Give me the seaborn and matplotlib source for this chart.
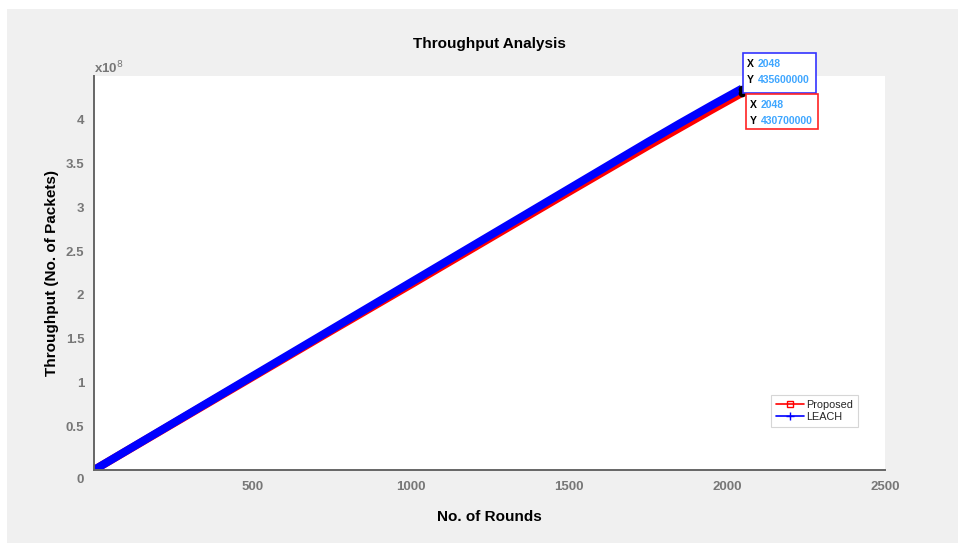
import matplotlib
matplotlib.use("Agg")
import matplotlib.pyplot as plt
import seaborn as sns
import pandas as pd
from matplotlib.patches import Rectangle
from matplotlib.lines import Line2D
from matplotlib.ticker import FuncFormatter

# ---- data ----
rounds = [0, 250, 500, 750, 1000, 1250, 1500, 1750, 1850, 1950, 2048]
leach = [0.0, 0.535e8, 1.07e8, 1.605e8, 2.14e8, 2.675e8, 3.21e8, 3.745e8, 3.955e8, 4.16e8, 4.356e8]
proposed = [0.0, 0.53e8, 1.06e8, 1.59e8, 2.115e8, 2.645e8, 3.175e8, 3.70e8, 3.905e8, 4.11e8, 4.307e8]
series_names = ["Proposed", "LEACH"]
x_ticks = [0, 500, 1000, 1500, 2000, 2500]
y_ticks = [0, 0.5e8, 1e8, 1.5e8, 2e8, 2.5e8, 3e8, 3.5e8, 4e8, 4.5e8]
tip_x = 2048
tip_leach = 435600000
tip_proposed = 430700000

df = pd.DataFrame({
    "Rounds": rounds * 2,
    "Throughput": proposed + leach,
    "Series": [series_names[0]] * len(rounds) + [series_names[1]] * len(rounds),
})

sns.set_style("white")
plt.rcParams["font.family"] = ["Liberation Sans", "DejaVu Sans"]

W, H = 958, 543
fig = plt.figure(figsize=(W / 100, H / 100), dpi=100, facecolor="white")
# grey figure panel (white strip at top and left)
fig.patches.append(Rectangle((7 / W, 0), 1 - 7 / W, 1 - 9 / H, transform=fig.transFigure,
                             facecolor="#f0f0f0", edgecolor="none", zorder=-10))

ax = fig.add_axes([94 / W, 1 - 470 / H, (885 - 94) / W, (470 - 76) / H])
ax.set_facecolor("white")

sns.lineplot(data=df, x="Rounds", y="Throughput", hue="Series",
             palette={"Proposed": "#ff0000", "LEACH": "#0000ff"},
             linewidth=5.8, legend=False, ax=ax, solid_capstyle="butt")

ax.set_xlim(0, 2500)
ax.set_ylim(0, 4.5e8)
ax.set_xticks(x_ticks)
ax.set_yticks(y_ticks)
ax.yaxis.set_major_formatter(FuncFormatter(
    lambda v, p: "" if (abs(v - 4.5e8) < 1 or v == 0) else "%g" % (v / 1e8)))
ax.xaxis.set_major_formatter(FuncFormatter(lambda v, p: "" if v == 0 else "%d" % v))

for s in ["top", "right"]:
    ax.spines[s].set_visible(False)
for s in ["left", "bottom"]:
    ax.spines[s].set_color("#666666")
    ax.spines[s].set_linewidth(1.4)
ax.tick_params(direction="in", length=4, width=1.4, color="#666666",
               labelcolor="#777777", labelsize=9.5)
ax.tick_params(axis="x", pad=8)
ax.tick_params(axis="y", pad=7)
for lbl in ax.get_xticklabels() + ax.get_yticklabels():
    lbl.set_fontweight("bold")

# shared origin label
ax.annotate("0", xy=(0, 0), xycoords="data", xytext=(-10, -7), textcoords="offset points",
            ha="center", va="center", fontsize=9.5, fontweight="bold", color="#777777",
            annotation_clip=False)

ax.text(0.0, 1.0, "x10$^{8}$", transform=ax.transAxes, fontsize=9.5,
        color="#777777", fontweight="bold", ha="left", va="bottom")

ax.set_title("Throughput Analysis", fontsize=11, fontweight="bold", color="black", pad=20.5)
ax.set_xlabel("No. of Rounds", fontsize=11, fontweight="bold", color="black", labelpad=12)
ax.set_ylabel("Throughput (No. of Packets)", fontsize=11, fontweight="bold", color="black",
              labelpad=5)

# data-tip markers
ax.plot([tip_x, tip_x], [tip_leach, tip_proposed], "o", color="black", markersize=4.5,
        zorder=5, clip_on=False)

def datatip(yv, color, dx_px, dy_px, w_px, h_px):
    px, py = ax.transData.transform((tip_x, yv))
    x0 = (px + dx_px) / W
    y0 = (py + dy_px) / H
    fig.patches.append(Rectangle((x0, y0), w_px / W, h_px / H, transform=fig.transFigure,
                                 facecolor="white", edgecolor=color, linewidth=1.2, zorder=6))
    rows = [("X", "%d" % tip_x), ("Y", "%d" % yv)]
    for i, (k, v) in enumerate(rows):
        ty = y0 + (h_px - 11 - i * 16) / H
        fig.text(x0 + 4 / W, ty, k, fontsize=7.5, fontweight="bold", color="black",
                 va="center", ha="left", zorder=7)
        fig.text(x0 + 15 / W, ty, v, fontsize=7.5, fontweight="bold", color="#3ea6ff",
                 va="center", ha="left", zorder=7)

datatip(tip_leach, "#3333ff", 1, -4, 73, 40)
datatip(tip_proposed, "#ff2222", 4, -36, 72, 35)

handles = [Line2D([0], [0], color="#ff0000", marker="s", markersize=4, markerfacecolor="none",
                  markeredgecolor="#ff0000", lw=1.2),
           Line2D([0], [0], color="#0000ff", marker="+", markersize=6, lw=1.2)]
leg = ax.legend(handles, series_names, loc="lower right", bbox_to_anchor=(0.966, 0.109),
                fontsize=7.8, frameon=True, fancybox=False, handlelength=2.6,
                handletextpad=0.2, borderpad=0.45, labelspacing=0.2, borderaxespad=0)
leg.get_frame().set_edgecolor("#cccccc")
leg.get_frame().set_linewidth(0.8)

fig.savefig("out.png", dpi=100, facecolor=fig.get_facecolor())
